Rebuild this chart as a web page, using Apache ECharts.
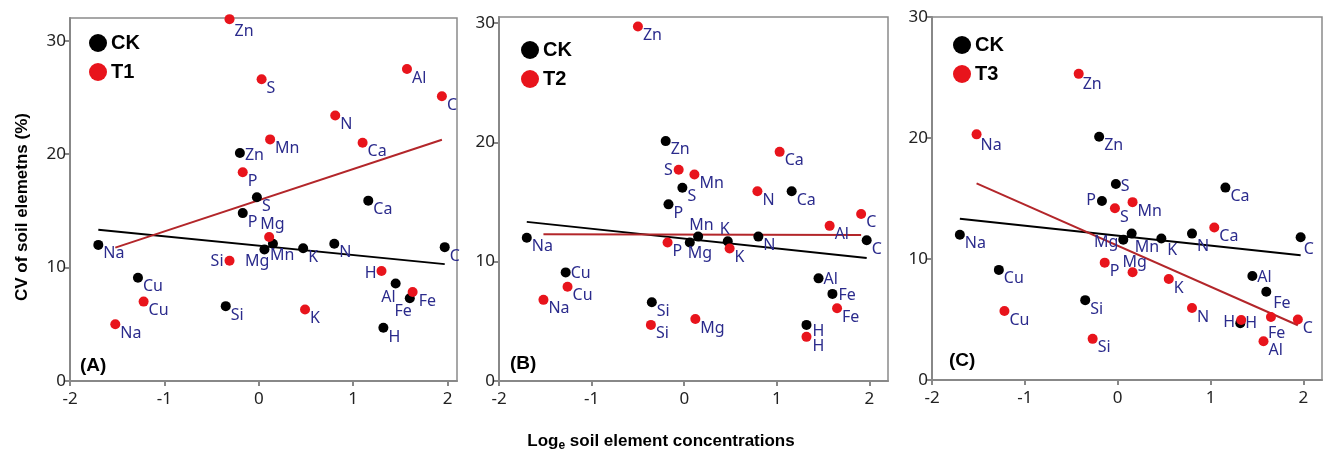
<!DOCTYPE html>
<html>
<head>
<meta charset="utf-8">
<script src="https://cdn.jsdelivr.net/npm/echarts@6.0.0/dist/echarts.min.js"></script>
<style>
html, body { margin: 0; padding: 0; background: #fff; }
#chart { width: 1323px; height: 450px; }
</style>
</head>
<body>
<div id="chart"></div>
<script>
// element order is the same in every series
var elements = ['Na', 'Cu', 'Si', 'Zn', 'P', 'S', 'Mg', 'Mn', 'K', 'N', 'Ca', 'C', 'Al', 'Fe', 'H'];

// CK (control), same in all panels
var ckX = [-1.70, -1.28, -0.35, -0.20, -0.17, -0.02, 0.06, 0.15, 0.47, 0.80, 1.16, 1.97, 1.45, 1.60, 1.32];
var ckY = [12.0, 9.1, 6.6, 20.1, 14.8, 16.2, 11.6, 12.1, 11.7, 12.1, 15.9, 11.8, 8.6, 7.3, 4.7];

// treatments
var t1X = [-1.52, -1.22, -0.31, -0.31, -0.17, 0.03, 0.11, 0.12, 0.49, 0.81, 1.10, 1.94, 1.57, 1.63, 1.30];
var t1Y = [5.0, 7.0, 10.6, 31.9, 18.4, 26.6, 12.7, 21.3, 6.3, 23.4, 21.0, 25.1, 27.5, 7.85, 9.7];
var t2X = [-1.52, -1.26, -0.36, -0.50, -0.18, -0.06, 0.12, 0.11, 0.49, 0.79, 1.03, 1.91, 1.57, 1.65, 1.32];
var t2Y = [6.8, 7.9, 4.7, 29.7, 11.6, 17.7, 5.2, 17.3, 11.1, 15.9, 19.2, 14.0, 13.0, 6.1, 3.7];
var t3X = [-1.52, -1.22, -0.27, -0.42, -0.14, -0.03, 0.16, 0.16, 0.55, 0.80, 1.04, 1.94, 1.57, 1.65, 1.33];
var t3Y = [20.3, 5.7, 3.4, 25.3, 9.7, 14.2, 8.9, 14.7, 8.35, 5.95, 12.6, 5.0, 3.2, 5.2, 4.96];

var xTicks = [-2, -1, 0, 1, 2];
var yTicks = [0, 10, 20, 30];

var labelBlue = '#2b2b8c';
var red = '#e8141c';
var redLine = '#b3262a';

// label placement tweaks [dx, dy, align]; default is below-right of the dot
var panels = [
    { tag: '(A)', name: 'T1', xs: t1X, ys: t1Y, xMax: 2.1, yMax: 32,
      grid: { left: 70, top: 18, width: 387, height: 363 }, legend: { left: 89, top: 33 },
      tagPos: [80, 366],
      ckShift: { Zn: [5, 2], Mg: [5, 12, 'right'], Mn: [-3, 12], Al: [0, 14, 'right'], Fe: [2, 13, 'right'], H: [5, 10] },
      tShift: { Zn: [5, 12], Mg: [-9, -12], Si: [-6, 1, 'right'], H: [-5, 2, 'right'], Fe: [6, 9] } },
    { tag: '(B)', name: 'T2', xs: t2X, ys: t2Y, xMax: 2.2, yMax: 30.5,
      grid: { left: 499, top: 17, width: 389, height: 364 }, legend: { left: 521, top: 40 },
      tagPos: [510, 364],
      ckShift: { Cu: [5, 1], Zn: [5, 8], Mg: [-2, 11], Mn: [-9, -11], K: [2, -12, 'right'], Al: [5, 1], Fe: [6, 2], H: [6, 7] },
      tShift: { S: [-6, 1, 'right'], H: [6, 10] } },
    { tag: '(C)', name: 'T3', xs: t3X, ys: t3Y, xMax: 2.2, yMax: 30,
      grid: { left: 932, top: 17, width: 390, height: 363 }, legend: { left: 953, top: 35 },
      tagPos: [949, 361],
      ckShift: { P: [-6, 0, 'right'], S: [5, 2], Mg: [-5, 3, 'right'], Mn: [3, 14], K: [6, 12], N: [5, 13], C: [3, 12], Al: [5, 1], Fe: [7, 12], H: [5, 0] },
      tShift: { Mg: [-10, -10], H: [-6, 2, 'right'], Fe: [-3, 16], Zn: [4, 11], Na: [4, 11] } }
];

// least squares line over the x range of the points
function fitLine(xs, ys) {
    var n = xs.length, mx = 0, my = 0, sxy = 0, sxx = 0;
    for (var i = 0; i < n; i++) { mx += xs[i]; my += ys[i]; }
    mx /= n; my /= n;
    for (var i = 0; i < n; i++) {
        sxy += (xs[i] - mx) * (ys[i] - my);
        sxx += (xs[i] - mx) * (xs[i] - mx);
    }
    var b = sxy / sxx, a = my - b * mx;
    var x0 = Math.min.apply(null, xs), x1 = Math.max.apply(null, xs);
    return [[x0, a + b * x0], [x1, a + b * x1]];
}

function points(xs, ys, shift) {
    return elements.map(function (el, i) {
        var s = shift[el] || [5, 9];
        return {
            name: el,
            value: [xs[i], ys[i]],
            label: { offset: [s[0], s[1]], align: s[2] || 'left' }
        };
    });
}

var option = {
    animation: false,
    grid: [], xAxis: [], yAxis: [], legend: [], series: [],
    graphic: [
        { type: 'text', x: 22, y: 207, rotation: Math.PI / 2,
          style: { text: 'CV of soil elemetns (%)', align: 'center', verticalAlign: 'middle',
                   font: 'bold 17px "Liberation Sans", Arial, sans-serif', fill: '#000' } },
        { type: 'text', x: 661, y: 441,
          style: { text: '{a|Log}{b|e}{a| soil element concentrations}', align: 'center', verticalAlign: 'middle',
                   rich: {
                       a: { fontSize: 17, fontWeight: 'bold', fontFamily: 'Liberation Sans', color: '#000', lineHeight: 22 },
                       b: { fontSize: 12, fontWeight: 'bold', fontFamily: 'Liberation Sans', color: '#000', lineHeight: 12, verticalAlign: 'bottom' }
                   } } }
    ]
};

panels.forEach(function (p, k) {
    option.grid.push({
        left: p.grid.left, top: p.grid.top, width: p.grid.width, height: p.grid.height,
        show: true, borderColor: '#8a8a8a', borderWidth: 1.5, backgroundColor: '#fff',
        outerBoundsMode: 'none'
    });
    option.xAxis.push({
        type: 'value', gridIndex: k, min: -2, max: p.xMax, interval: 1,
        axisLine: { show: true, onZero: false, lineStyle: { color: '#888', width: 2 } },
        axisTick: { show: true, length: 5, customValues: xTicks, lineStyle: { color: '#888', width: 2 } },
        axisLabel: { customValues: xTicks, margin: 10, fontSize: 17, color: '#222', fontFamily: 'Noto Sans' },
        splitLine: { show: false }
    });
    option.yAxis.push({
        type: 'value', gridIndex: k, min: 0, max: p.yMax, interval: 10,
        axisLine: { show: true, onZero: false, lineStyle: { color: '#888', width: 2 } },
        axisTick: { show: true, length: 5, customValues: yTicks, lineStyle: { color: '#888', width: 2 } },
        axisLabel: { customValues: yTicks, margin: 4, fontSize: 17, color: '#222', fontFamily: 'Noto Sans' },
        splitLine: { show: false }
    });
    option.legend.push({
        data: ['CK', p.name], orient: 'vertical', left: p.legend.left, top: p.legend.top,
        icon: 'circle', itemWidth: 18, itemHeight: 18, itemGap: 9, padding: 0,
        itemStyle: { opacity: 1 },
        textStyle: { fontSize: 20, fontWeight: 'bold', color: '#000', fontFamily: 'Liberation Sans', padding: [0, 0, 0, -1] }
    });
    option.graphic.push({
        type: 'text', x: p.tagPos[0], y: p.tagPos[1],
        style: { text: p.tag, align: 'left', verticalAlign: 'middle',
                 font: 'bold 19px "Liberation Sans", Arial, sans-serif', fill: '#000' }
    });

    var ckLine = fitLine(ckX, ckY);
    var tLine = fitLine(p.xs, p.ys);
    option.series.push(
        { type: 'line', name: 'ck-fit', xAxisIndex: k, yAxisIndex: k, data: ckLine, symbol: 'none',
          silent: true, lineStyle: { color: '#000', width: 2 }, z: 1 },
        { type: 'line', name: 't-fit', xAxisIndex: k, yAxisIndex: k, data: tLine, symbol: 'none',
          silent: true, lineStyle: { color: redLine, width: 2 }, z: 1 }
    );
    var lbl = { show: true, position: 'inside', verticalAlign: 'middle', formatter: '{b}',
                fontSize: 16, color: labelBlue, fontFamily: 'Noto Sans', opacity: 1 };
    option.series.push(
        { type: 'scatter', name: 'CK', xAxisIndex: k, yAxisIndex: k, symbolSize: 10,
          itemStyle: { color: '#000', opacity: 1 }, label: lbl, data: points(ckX, ckY, p.ckShift), z: 3 },
        { type: 'scatter', name: p.name, xAxisIndex: k, yAxisIndex: k, symbolSize: 10,
          itemStyle: { color: red, opacity: 1 }, label: lbl, data: points(p.xs, p.ys, p.tShift), z: 4 }
    );
});

var chart = echarts.init(document.getElementById('chart'));
chart.setOption(option);
</script>
</body>
</html>
